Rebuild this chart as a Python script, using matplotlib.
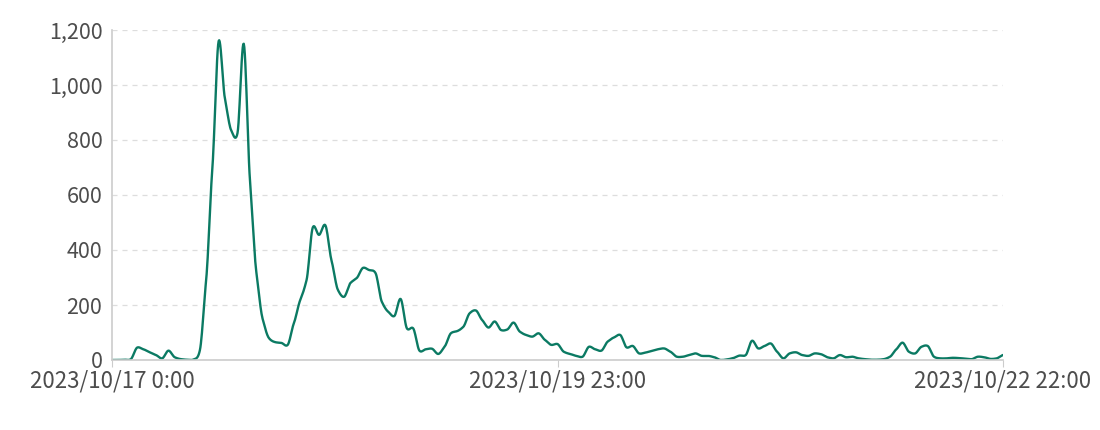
import numpy as np
import matplotlib
matplotlib.use("Agg")
import matplotlib.pyplot as plt

plt.rcParams['font.family'] = ['Noto Sans CJK JP', 'DejaVu Sans']

# hourly counts, 2023/10/17 0:00 .. 2023/10/22 22:00
values = [
    0, 0, 1, 3, 45, 39, 28, 18, 6, 34,
    10, 3, 1, 2, 35, 290, 700, 1160, 950, 835,
    825, 1150, 650, 320, 150, 80, 65, 62, 55, 135,
    218, 290, 482, 455, 490, 360, 255, 230, 280, 298,
    335, 327, 316, 212, 176, 160, 222, 115, 115, 34,
    39, 41, 22, 48, 97, 105, 121, 170, 180, 145,
    118, 140, 109, 111, 136, 103, 91, 85, 97, 73,
    55, 58, 30, 22, 15, 12, 48, 39, 34, 67,
    82, 91, 46, 51, 24, 27, 33, 39, 42, 30,
    12, 12, 18, 24, 15, 15, 10, 0, 2, 7,
    16, 18, 70, 42, 51, 60, 30, 6, 24, 28,
    18, 15, 24, 21, 10, 6, 18, 10, 12, 6,
    3, 1, 1, 3, 12, 39, 63, 30, 24, 48,
    51, 12, 6, 6, 8, 7, 5, 3, 12, 10,
    4, 6, 18,
]
tick_pos = [0, 71, 142]
tick_labels = ['2023/10/17 0:00', '2023/10/19 23:00', '2023/10/22 22:00']
y_ticks = [0, 200, 400, 600, 800, 1000, 1200]


def smooth(x, y, n=12, k=0.7):
    # hermite spline through the points
    x = np.asarray(x, float)
    y = np.asarray(y, float)
    xp = np.concatenate([[x[0]], x, [x[-1]]])
    yp = np.concatenate([[y[0]], y, [y[-1]]])
    xs, ys = [], []
    t = np.linspace(0, 1, n, endpoint=False)
    for i in range(1, len(xp) - 2):
        p0, p1, p2, p3 = yp[i - 1], yp[i], yp[i + 1], yp[i + 2]
        m1 = (p2 - p0) / 2 * k
        m2 = (p3 - p1) / 2 * k
        h00 = 2 * t**3 - 3 * t**2 + 1
        h10 = t**3 - 2 * t**2 + t
        h01 = -2 * t**3 + 3 * t**2
        h11 = t**3 - t**2
        ys.append(h00 * p1 + h10 * m1 + h01 * p2 + h11 * m2)
        xs.append(xp[i] + t * (xp[i + 1] - xp[i]))
    xs.append([x[-1]])
    ys.append([y[-1]])
    return np.concatenate(xs), np.maximum(np.concatenate(ys), 0)


hours = np.arange(len(values))
sx, sy = smooth(hours, values)

fig = plt.figure(figsize=(11, 4.3), dpi=100)
ax = fig.add_axes([112 / 1100, 70 / 430, 891 / 1100, 330 / 430])

ax.plot(sx, sy, color='#0b7a63', linewidth=1.7, solid_joinstyle='round')

ax.set_xlim(0, 142)
ax.set_ylim(0, 1200)
ax.set_yticks(y_ticks)
ax.set_yticklabels([f'{v:,}' for v in y_ticks])
ax.set_xticks(tick_pos)
ax.set_xticklabels(tick_labels)

ax.grid(axis='y', color='#dddddd', linestyle=(0, (4, 4)), linewidth=0.9)
ax.set_axisbelow(True)
for s in ['top', 'right']:
    ax.spines[s].set_visible(False)
for s in ['left', 'bottom']:
    ax.spines[s].set_color('#cccccc')
    ax.spines[s].set_linewidth(1.2)
ax.tick_params(axis='y', length=0, pad=7, labelsize=15.5, labelcolor='#4d4d4d')
ax.tick_params(axis='x', length=5, color='#cccccc', pad=2, labelsize=16,
               labelcolor='#4d4d4d')

fig.savefig('out.png', dpi=100)
